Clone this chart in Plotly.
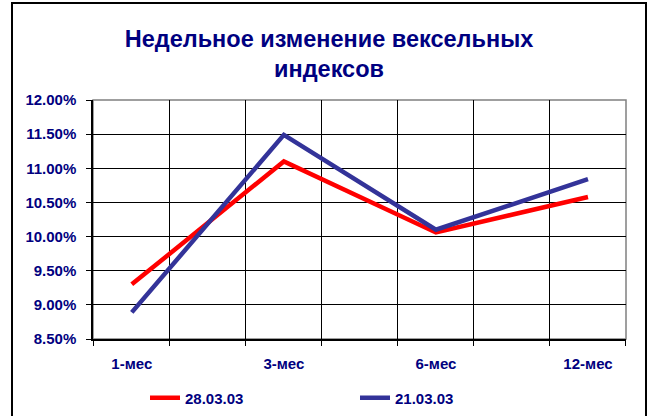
import plotly.graph_objects as go

categories = ["1-мес", "3-мес", "6-мес", "12-мес"]
series_28 = [0.0930, 0.1110, 0.1006, 0.1058]
series_21 = [0.0889, 0.1149, 0.1010, 0.1084]
series_names = ["28.03.03", "21.03.03"]
y_ticks = [0.085, 0.09, 0.095, 0.10, 0.105, 0.11, 0.115, 0.12]

cat_x = list(range(len(categories)))

NAVY = "#000080"
FONT = "Liberation Sans, Arial, sans-serif"

fig = go.Figure()
fig.add_trace(go.Scatter(x=cat_x, y=series_28, mode="lines", name=series_names[0],
                         line=dict(color="#FF0000", width=4.5)))
fig.add_trace(go.Scatter(x=cat_x, y=series_21, mode="lines", name=series_names[1],
                         line=dict(color="#333399", width=4.5)))

W, H = 650, 416
L, R, T, B = 93, 24, 100, 77
pw, ph = W - L - R, H - T - B

fig.update_layout(
    width=W, height=H,
    margin=dict(l=L, r=R, t=T, b=B, autoexpand=False),
    paper_bgcolor="white", plot_bgcolor="white",
    font=dict(family=FONT, color=NAVY, size=15),
    title=dict(text="Недельное изменение вексельных<br>индексов",
               xref="container", x=329 / W, xanchor="center",
               yref="container", y=1 - 46.5 / H, yanchor="middle",
               font=dict(size=23.5, color=NAVY, family=FONT, weight="bold")),
    showlegend=True,
    legend=dict(orientation="h", x=(145 - L) / pw, xanchor="left",
                y=(H - B - 398) / ph, yanchor="middle",
                font=dict(size=15, color=NAVY, family=FONT, weight="bold"),
                entrywidth=165, itemwidth=30, bgcolor="rgba(0,0,0,0)",
                tracegroupgap=0),
    xaxis=dict(range=[-0.255, 3.25], tickvals=cat_x, ticktext=categories,
               ticks="", showgrid=False, zeroline=False,
               showline=True, linecolor="black", linewidth=1.5,
               ticklabelstandoff=10,
               minor=dict(tick0=-0.255, dtick=0.5, showgrid=True, gridcolor="black", gridwidth=1,
                          ticks="outside", ticklen=5, tickcolor="black"),
               tickfont=dict(size=15, color=NAVY, family=FONT, weight="bold")),
    yaxis=dict(range=[0.085, 0.12], tickvals=y_ticks, tickformat=".2%",
               showgrid=True, gridcolor="black", gridwidth=1, zeroline=False,
               showline=True, linecolor="black", linewidth=1.5,
               ticks="outside", ticklen=5, tickcolor="black",
               ticklabelstandoff=7,
               tickfont=dict(size=15, color=NAVY, family=FONT, weight="bold")),
)

# plot area border (gray) and outer chart border
fig.add_shape(type="rect", xref="paper", yref="paper", x0=0, x1=1, y0=0, y1=1,
              line=dict(color="#808080", width=1.5), layer="below")
fig.add_shape(type="rect", xref="paper", yref="paper",
              x0=(12 - L) / pw, x1=(646 - L) / pw,
              y0=(H - B - 430) / ph, y1=(H - B - 3) / ph,
              line=dict(color="black", width=2))

fig.write_html("out.html", config={"displayModeBar": False},
               post_script="document.body.style.margin='0';")
